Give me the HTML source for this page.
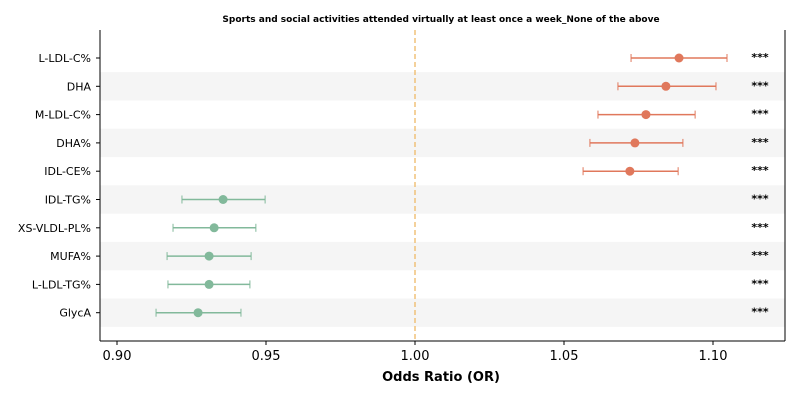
<!DOCTYPE html>
<html><head><meta charset="utf-8"><style>
body{margin:0;background:#fff}
svg text{font-family:"DejaVu Sans","Liberation Sans",sans-serif}
</style></head><body>
<svg id="chart" width="800" height="400" xmlns="http://www.w3.org/2000/svg">
<text x="441" y="22" font-size="9" font-weight="bold" text-anchor="middle">Sports and social activities attended virtually at least once a week_None of the above</text>
<g id="bands"></g>
<line x1="415" x2="415" y1="30" y2="341" stroke="#f0c27a" stroke-width="1.5" stroke-dasharray="5,3"/>
<g id="marks"></g>
<line x1="100" x2="100" y1="30" y2="341" stroke="#000" stroke-width="1"/>
<line x1="785" x2="785" y1="30" y2="341" stroke="#000" stroke-width="1"/>
<line x1="100" x2="785" y1="341" y2="341" stroke="#000" stroke-width="1"/>
<g id="xticks"></g>
<text x="441" y="381" font-size="13" font-weight="bold" text-anchor="middle">Odds Ratio (OR)</text>
</svg>
<script>
const labels=["L-LDL-C%","DHA","M-LDL-C%","DHA%","IDL-CE%","IDL-TG%","XS-VLDL-PL%","MUFA%","L-LDL-TG%","GlycA"];
const orValues=[1.0886,1.0842,1.0775,1.0738,1.0721,0.9356,0.9326,0.9309,0.9309,0.9272];
const ciLow=[1.0725,1.0681,1.0614,1.0587,1.0564,0.9218,0.9188,0.9168,0.9171,0.9131];
const ciHigh=[1.1047,1.1010,1.0940,1.0899,1.0883,0.9497,0.9466,0.9450,0.9446,0.9416];
const sig=["***","***","***","***","***","***","***","***","***","***"];
const xTicks=[0.90,0.95,1.00,1.05,1.10];
const NS="http://www.w3.org/2000/svg";
const x=v=>117+(v-0.90)*2980;
const y=i=>58+i*28.3;
function mk(t,a,p){const e=document.createElementNS(NS,t);for(const k in a)e.setAttribute(k,a[k]);p.appendChild(e);return e;}
const bands=document.getElementById('bands'),marks=document.getElementById('marks'),xt=document.getElementById('xticks');
labels.forEach((l,i)=>{
 if(i%2===1){const r=mk('rect',{x:100,y:y(i)-14.15,width:685,height:28.3,fill:'#f5f5f5'},bands);
 
 }
 const col=orValues[i]>1?'#e0785c':'#82b99b';
 const g=mk('g',{},marks);
 
 
 const yy=y(i);
 mk('line',{x1:x(ciLow[i]),x2:x(ciHigh[i]),y1:yy,y2:yy,stroke:col,'stroke-width':1.5},g);
 mk('line',{x1:x(ciLow[i]),x2:x(ciLow[i]),y1:yy-4,y2:yy+4,stroke:col,'stroke-width':1},g);
 mk('line',{x1:x(ciHigh[i]),x2:x(ciHigh[i]),y1:yy-4,y2:yy+4,stroke:col,'stroke-width':1},g);
 mk('circle',{cx:x(orValues[i]),cy:yy,r:4.5,fill:col},g);
 const t=mk('text',{x:91,y:yy+4,'font-size':11,'text-anchor':'end'},marks);t.textContent=l;
 
 
 mk('line',{x1:96,x2:100,y1:yy,y2:yy,stroke:'#000'},marks);
 const s=mk('text',{x:760,y:yy+3,'font-size':11,'font-weight':'bold','text-anchor':'middle'},marks);s.textContent=sig[i];
 
 
});
xTicks.forEach(v=>{
 mk('line',{x1:x(v),x2:x(v),y1:341,y2:345,stroke:'#000'},xt);
 const t=mk('text',{x:x(v),y:360,'font-size':13,'text-anchor':'middle'},xt);t.textContent=v.toFixed(2);
 
 
});
</script>
</body></html>
